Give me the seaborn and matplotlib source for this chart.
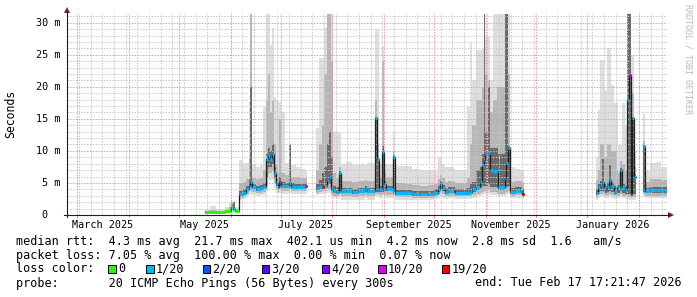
import numpy as np
import pandas as pd
import matplotlib
matplotlib.use("Agg")
import matplotlib.pyplot as plt
import matplotlib.dates as mdates
import matplotlib.transforms as mtransforms
from matplotlib.patches import Polygon, Rectangle
from matplotlib.lines import Line2D
import seaborn as sns

NAN = np.nan
END = pd.Timestamp("2026-02-17 17:21:47")
SPAN_DAYS = 360

# ---- data (days after window start) ----
t_day = [82.8, 85.8, 89.4, 94.8, 97.2, 98.4, 99.6, 100.8,
         103.2, 105.6, 107.4, 109.2, 109.8, 111.0, 113.4, 115.8, 117.6, 119.4, 120.6, 121.8, 123.0,
         124.2, 125.4, 126.6, 127.2, 128.4, 130.8, 133.2, 134.4, 137.4, 140.4, 142.8, 144.0,
         149.4, 151.2, 153.0, 154.2, 156.0, 157.2, 158.4, 159.6, 161.4, 163.2, 164.4, 167.4, 171.0,
         174.6, 178.8, 180.0, 184.8, 186.0, 187.2, 189.0, 190.2, 191.4, 195.6, 196.8, 202.8, 207.0,
         211.8, 216.6, 220.2, 222.6, 223.8, 225.0, 226.8, 228.6, 232.2, 232.8, 238.2, 240.0, 241.8,
         243.0, 245.4, 247.8, 249.0, 250.2, 250.8, 252.6, 253.8, 255.6, 258.0, 258.6, 262.8, 263.4,
         264.6, 265.8, 268.8, 271.8, 273.0, 274.2,
         317.4, 318.6, 319.8, 321.0, 322.2, 323.4, 324.0, 325.2, 326.4, 328.2, 330.0, 330.6, 331.8,
         333.0, 334.8, 336.0, 337.2, 338.4, 339.0, 340.2, 341.4,
         345.6, 346.8, 349.8, 353.4, 356.4, 358.2, 360.0]
med = [0.45, 0.45, 0.40, 0.55, 0.65, 1.20, 0.90, 0.60,
       3.3, 3.5, 4.0, 4.6, 5.2, 4.3, 4.1, 4.2, 4.3, 8.8, 9.4, 8.8, 9.5,
       6.5, 5.0, 4.3, 5.2, 4.5, 4.5, 5.0, 4.4, 4.4, 4.4, 4.5, NAN,
       4.2, 4.3, 4.4, 4.5, 5.5, 6.0, 4.0, 3.7, 3.6, 6.5, 3.7, 3.7, 3.6,
       3.7, 4.0, 3.7, 15.1, 8.8, 4.0, 9.9, 4.9, 4.1, 9.1, 3.4, 3.4, 3.2,
       3.2, 3.3, 3.5, 4.0, 4.9, 4.2, 3.6, 3.8, 3.8, 3.5, 3.5, 3.5, 3.6,
       4.0, 4.3, 5.2, 7.8, 8.6, 9.5, 9.6, 7.0, 6.9, 6.9, 4.3, 5.7, 8.1,
       10.4, 3.6, 3.8, 3.8, 3.3, NAN,
       3.4, 4.3, 4.9, 5.2, 4.2, 3.9, 4.3, 5.5, 4.5, 3.8, 4.2, 4.3, 7.0,
       4.3, 3.9, 17.9, 21.8, 3.3, 15.1, 6.0, NAN,
       10.8, 3.7, 3.9, 3.9, 3.8, 3.9, NAN]
loss = [0, 0, 0, 0, 0, 0, 1, 0,
        1, 1, 1, 1, 1, 1, 1, 1, 1, 1, 1, 1, 1,
        1, 1, 1, 10, 1, 1, 1, 1, 1, 1, 10, NAN,
        1, 1, 19, 1, 1, 1, 1, 1, 1, 1, 1, 1, 1,
        1, 1, 1, 1, 1, 1, 1, 1, 1, 1, 1, 1, 1,
        1, 1, 1, 1, 1, 1, 1, 1, 19, 1, 1, 1, 1,
        1, 1, 1, 1, 1, 1, 1, 1, 1, 1, 1, 1, 1,
        1, 1, 1, 1, 19, NAN,
        1, 1, 1, 1, 1, 1, 1, 1, 1, 1, 1, 1, 1,
        1, 1, 1, 10, 10, 1, 1, NAN,
        1, 1, 1, 1, 1, 1, NAN]
lo = [0.30, 0.30, 0.28, 0.35, 0.40, 0.60, 0.50, 0.40,
      2.3, 2.5, 2.9, 3.2, 3.3, 3.1, 3.0, 3.1, 3.1, 3.8, 5.5, 5.5, 5.5,
      4.2, 3.5, 3.2, 3.4, 3.3, 3.3, 3.5, 3.2, 3.2, 3.2, 3.3, NAN,
      3.1, 3.2, 3.2, 3.2, 3.4, 3.4, 2.9, 2.6, 2.5, 2.8, 2.4, 2.4, 2.3,
      2.4, 2.6, 2.4, 2.9, 2.9, 2.7, 2.9, 2.9, 2.7, 2.7, 2.4, 2.4, 2.3,
      2.3, 2.4, 2.5, 2.7, 2.9, 2.7, 2.5, 2.6, 2.6, 2.5, 2.5, 2.5, 2.5,
      2.7, 2.9, 2.9, 3.1, 3.2, 3.2, 3.3, 3.1, 3.1, 2.9, 2.9, 2.9, 3.1,
      3.2, 2.6, 2.7, 2.7, 2.5, NAN,
      2.4, 2.7, 2.9, 2.9, 2.7, 2.6, 2.7, 2.9, 2.7, 2.5, 2.6, 2.6, 2.9,
      2.6, 2.5, 2.4, 2.4, 2.2, 2.4, 2.4, NAN,
      2.9, 2.6, 2.6, 2.6, 2.6, 2.6, NAN]
lo_mid = [0.35, 0.35, 0.32, 0.40, 0.50, 0.80, 0.60, 0.45,
          2.6, 2.8, 3.3, 3.7, 3.8, 3.6, 3.4, 3.5, 3.6, 4.5, 6.5, 6.5, 6.8,
          5.0, 4.0, 3.6, 4.0, 3.8, 3.8, 4.0, 3.7, 3.7, 3.7, 3.8, NAN,
          3.5, 3.6, 3.7, 3.7, 4.0, 4.0, 3.3, 3.0, 2.9, 3.3, 2.9, 2.9, 2.8,
          2.9, 3.1, 2.9, 3.3, 3.3, 3.1, 3.3, 3.3, 3.1, 3.1, 2.8, 2.8, 2.6,
          2.6, 2.7, 2.8, 3.1, 3.4, 3.2, 2.9, 3.0, 3.0, 2.9, 2.9, 2.9, 2.9,
          3.1, 3.3, 3.4, 3.6, 3.7, 3.7, 3.9, 3.6, 3.6, 3.4, 3.3, 3.4, 3.6,
          3.7, 3.0, 3.1, 3.1, 2.8, NAN,
          2.7, 3.1, 3.3, 3.3, 3.1, 3.0, 3.1, 3.3, 3.1, 2.9, 3.0, 3.0, 3.3,
          3.0, 2.9, 2.8, 2.8, 2.6, 2.8, 2.8, NAN,
          3.3, 3.0, 3.0, 3.0, 3.0, 3.0, NAN]
lo_in = [0.40, 0.40, 0.36, 0.48, 0.58, 1.00, 0.75, 0.52,
         3.0, 3.2, 3.7, 4.2, 4.4, 4.0, 3.8, 3.9, 4.0, 6.0, 7.5, 7.5, 8.0,
         5.8, 4.6, 4.0, 4.6, 4.2, 4.2, 4.6, 4.1, 4.1, 4.1, 4.2, NAN,
         3.9, 4.0, 4.1, 4.2, 4.8, 4.8, 3.7, 3.4, 3.3, 3.8, 3.4, 3.4, 3.3,
         3.4, 3.7, 3.4, 3.6, 3.6, 3.6, 3.6, 3.8, 3.7, 3.5, 3.1, 3.1, 2.9,
         2.9, 3.0, 3.2, 3.6, 3.9, 3.8, 3.3, 3.5, 3.5, 3.2, 3.2, 3.2, 3.3,
         3.6, 3.9, 4.2, 4.5, 4.6, 4.6, 4.8, 4.4, 4.4, 4.2, 3.9, 4.0, 4.4,
         4.6, 3.4, 3.5, 3.5, 3.1, NAN,
         3.1, 3.6, 3.8, 3.8, 3.5, 3.4, 3.6, 3.8, 3.6, 3.3, 3.5, 3.5, 3.7,
         3.5, 3.3, 3.2, 3.2, 3.0, 3.2, 3.2, NAN,
         3.6, 3.4, 3.5, 3.5, 3.4, 3.5, NAN]
hi_in = [0.50, 0.50, 0.45, 0.65, 0.85, 1.50, 2.00, 0.80,
         3.8, 4.0, 4.5, 5.5, 20.0, 4.8, 4.6, 4.7, 5.0, 9.5, 10.5, 10.0, 11.0,
         7.5, 5.8, 4.9, 6.0, 5.1, 5.0, 10.9, 5.0, 4.9, 4.9, 5.0, NAN,
         4.8, 5.5, 6.5, 7.5, 11.0, 13.0, 9.0, 4.5, 4.3, 6.8, 4.2, 4.2, 4.1,
         4.2, 4.5, 4.2, 15.3, 9.0, 4.6, 10.7, 5.3, 4.6, 9.4, 3.9, 3.9, 3.7,
         3.7, 3.8, 4.0, 4.5, 5.3, 4.7, 4.1, 4.3, 4.3, 4.0, 4.0, 4.2, 4.8,
         5.2, 7.0, 7.5, 9.5, 31.4, 13.0, 20.0, 10.5, 10.5, 10.5, 9.5, 31.4, 31.4,
         10.8, 4.2, 4.3, 4.3, 4.0, NAN,
         4.0, 4.8, 5.3, 8.8, 4.8, 4.6, 5.0, 7.8, 5.0, 4.5, 4.6, 4.7, 7.3,
         4.8, 4.6, 31.4, 31.4, 15.0, 15.3, 6.4, NAN,
         10.9, 4.2, 4.4, 4.4, 4.3, 4.4, NAN]
hi_mid = [0.7, 0.8, 0.6, 0.9, 1.3, 2.0, 2.1, 1.0,
          5.0, 5.2, 5.6, 9.0, 31.4, 5.8, 5.6, 5.8, 7.0, 18.0, 22.0, 16.0, 18.0,
          11.0, 8.0, 6.5, 15.0, 6.5, 6.2, 11.0, 6.0, 5.9, 5.8, 5.8, NAN,
          7.0, 11.0, 14.0, 22.0, 31.4, 31.4, 24.0, 6.5, 5.8, 7.5, 5.3, 5.3, 5.2,
          5.3, 5.5, 5.3, 18.0, 11.0, 6.0, 24.0, 6.5, 6.0, 9.8, 5.0, 4.9, 4.7,
          4.6, 4.7, 4.9, 5.6, 6.2, 5.7, 5.2, 5.3, 5.2, 5.0, 5.0, 5.8, 11.0,
          14.0, 18.0, 18.0, 20.0, 31.4, 22.0, 21.0, 16.0, 18.0, 20.0, 20.0, 31.4, 31.4,
          22.0, 5.2, 5.3, 5.3, 5.0, NAN,
          5.5, 7.0, 11.0, 11.0, 9.0, 9.0, 11.0, 11.0, 10.0, 10.0, 7.0, 6.5, 8.5,
          8.0, 7.0, 31.4, 31.4, 19.0, 19.0, 7.5, NAN,
          11.5, 5.2, 5.6, 5.6, 5.4, 5.4, NAN]
hi_out = [1.0, 1.4, 1.0, 1.2, 1.8, 2.2, 2.2, 1.3,
          8.6, 8.1, 8.1, 17.7, 31.4, 7.8, 7.5, 7.8, 16.8, 31.4, 31.4, 26.5, 29.2,
          18.4, 18.0, 17.7, 17.7, 16.0, 8.1, 11.2, 7.8, 7.5, 7.2, 7.0, NAN,
          13.5, 24.5, 24.5, 29.2, 31.4, 31.4, 31.4, 13.0, 13.0, 12.8, 8.0, 8.3, 7.8,
          8.0, 7.8, 8.1, 28.9, 28.9, 8.0, 26.3, 8.0, 8.0, 12.8, 7.7, 7.6, 7.2,
          7.0, 7.0, 6.8, 9.1, 9.1, 8.0, 7.5, 7.5, 7.2, 7.0, 7.0, 16.9, 27.0,
          21.0, 25.7, 25.7, 26.0, 31.4, 27.8, 27.8, 21.0, 31.4, 31.4, 31.4, 31.4, 31.4,
          31.4, 7.5, 7.2, 7.0, 7.0, NAN,
          9.0, 16.4, 24.2, 24.2, 19.5, 19.5, 26.0, 26.0, 20.3, 17.5, 17.5, 10.9, 10.9,
          17.5, 14.0, 31.4, 31.4, 25.0, 25.0, 10.0, NAN,
          15.9, 6.8, 8.1, 8.3, 7.5, 7.5, NAN]

y_ticks = [0, 5, 10, 15, 20, 25, 30]
y_labels = ["0", "5 m", "10 m", "15 m", "20 m", "25 m", "30 m"]
x_labels = ["March 2025", "May 2025", "July 2025", "September 2025", "November 2025", "January 2026"]
x_label_dates = ["2025-03-16", "2025-05-16", "2025-07-16", "2025-09-16", "2025-11-16", "2026-01-16"]
loss_values = [0, 1, 2, 3, 4, 10, 19]
loss_names = ["0", "1/20", "2/20", "3/20", "4/20", "10/20", "19/20"]
loss_colors = ["#26ff00", "#00b8ff", "#0059ff", "#5e00ff", "#7e00ff", "#dd00ff", "#ff0000"]

legend_rtt = "median rtt:  4.3 ms avg  21.7 ms max  402.1 us min  4.2 ms now  2.8 ms sd  1.6   am/s"
legend_loss = "packet loss: 7.05 % avg  100.00 % max  0.00 % min  0.07 % now"
legend_color = "loss color:"
probe_text = "probe:       20 ICMP Echo Pings (56 Bytes) every 300s"
end_text = "end: Tue Feb 17 17:21:47 2026"

# ---- layout helpers (image pixels) ----
W, H = 697, 297
MONO = "DejaVu Sans Mono"
fig = plt.figure(figsize=(W / 100, H / 100), dpi=100)
fig.patch.set_facecolor("white")
L, R, T, B = 67, 667, 13, 215
ax = fig.add_axes([L / W, 1 - B / H, (R - L) / W, (B - T) / H])
ax.set_facecolor("white")

def P(x, y):
    return (x / W, 1 - y / H)

start = END - pd.Timedelta(days=SPAN_DAYS)
x0 = mdates.date2num(start.to_pydatetime())
x1 = mdates.date2num(END.to_pydatetime())
xs = x0 + np.array(t_day, dtype=float)
n = len(xs)

def steps(vals):
    vals = np.asarray(vals, dtype=float)
    X, Y = [], []
    for i in range(n):
        v = vals[i]
        if np.isnan(v) or i == n - 1:
            X.append(xs[i]); Y.append(np.nan)
        else:
            X += [xs[i], xs[i + 1]]; Y += [v, v]
    return np.array(X), np.array(Y)

Xs, LO = steps(lo)
_, LOM = steps(lo_mid)
_, LOI = steps(lo_in)
_, HII = steps(hi_in)
_, HIM = steps(hi_mid)
_, HIO = steps(hi_out)

ax.fill_between(Xs, LO, HIO, color="#dedede", lw=0, zorder=1)
ax.fill_between(Xs, LOM, HIM, color="#b6b6b6", lw=0, zorder=1.1)
ax.fill_between(Xs, LOI, HII, color="#6a6a6a", lw=0, zorder=1.2)

# grid (drawn over smoke like rrdtool)
minor_c = "#c8c8c8"
major_c = "#eb9a9a"
dash = (0, (1.4, 1.4))
for d in pd.date_range(start.normalize(), END, freq="W-SUN"):
    ax.axvline(mdates.date2num(d.to_pydatetime()), color=minor_c, lw=0.72, ls=dash, zorder=2)
for d in pd.date_range(start.normalize(), END, freq="MS"):
    ax.axvline(mdates.date2num(d.to_pydatetime()), color=major_c, lw=0.72, ls=dash, zorder=2.1)
for v in range(1, 32):
    if v % 5:
        ax.axhline(v, color=minor_c, lw=0.72, ls=dash, zorder=2)
for v in y_ticks[1:]:
    ax.axhline(v, color=major_c, lw=0.72, ls=dash, zorder=2.1)

# median: dark connector then loss-coloured segments
Xm, Ym = steps(med)
dfm = pd.DataFrame({"x": Xm, "y": Ym, "run": np.cumsum(np.isnan(Ym))}).dropna()
sns.lineplot(data=dfm, x="x", y="y", units="run", estimator=None, sort=False,
             color="#1e1e1e", lw=0.9, legend=False, ax=ax, zorder=3)
name_of = dict(zip(loss_values, loss_names))
rows = []
for i in range(n - 1):
    if not np.isnan(med[i]):
        nm = name_of[int(loss[i])]
        rows.append((xs[i], med[i], i, nm))
        rows.append((xs[i + 1], med[i], i, nm))
dfs = pd.DataFrame(rows, columns=["x", "y", "seg", "loss"])
sns.lineplot(data=dfs, x="x", y="y", units="seg", hue="loss", estimator=None, sort=False,
             palette=dict(zip(loss_names, loss_colors)), lw=2.2, legend=False, ax=ax,
             zorder=4, solid_capstyle="butt")

ax.set_xlim(x0, x1)
ax.set_ylim(0, (B - T) / 6.41)
ax.set_xticks([]); ax.set_yticks([])
ax.set_xlabel(""); ax.set_ylabel("")
for s in ax.spines.values():
    s.set_visible(False)

# axes lines and arrows
axis_c = (0.12, 0.12, 0.12)
arrow_c = (0.50, 0.12, 0.12)
fig.add_artist(Line2D([P(64, 215)[0], P(670, 215)[0]], [P(0, 215)[1]] * 2, transform=fig.transFigure, color=axis_c, lw=0.8))
fig.add_artist(Line2D([P(67, 0)[0]] * 2, [P(0, 217)[1], P(0, 11)[1]], transform=fig.transFigure, color=axis_c, lw=0.8))
fig.add_artist(Polygon([P(668, 212), P(668, 218), P(674, 215)], closed=True, transform=fig.transFigure, color=arrow_c, lw=0))
fig.add_artist(Polygon([P(64, 13), P(70, 13), P(67, 7)], closed=True, transform=fig.transFigure, color=arrow_c, lw=0))
for d in pd.date_range(start.normalize(), END, freq="MS"):
    xx = mdates.date2num(d.to_pydatetime())
    ax.plot([xx, xx], [0, -0.35], color=major_c, lw=0.8, clip_on=False, zorder=5)

# tick labels
tx = mtransforms.blended_transform_factory(ax.transData, fig.transFigure)
for lab, dstr in zip(x_labels, x_label_dates):
    ax.text(mdates.date2num(pd.Timestamp(dstr).to_pydatetime()), 1 - 225 / H, lab, transform=tx,
            ha="center", va="center", family=MONO, fontsize=7.3)
ty = mtransforms.blended_transform_factory(fig.transFigure, ax.transData)
for v, lab in zip(y_ticks, y_labels):
    xr = 60 if v else 47
    ax.text(xr / W, v, lab, transform=ty, ha="right", va="center", family=MONO, fontsize=7.3)

fig.text(*P(11, 114), "Seconds", rotation=90, ha="center", va="center", family=MONO, fontsize=8.3)
fig.text(*P(688, 59), "RRDTOOL / TOBI OETIKER", rotation=270, ha="center", va="center",
         family=MONO, fontsize=6, color="#b8b8b8")

# legend
FS = 8.5
fig.text(*P(16, 241), legend_rtt, ha="left", va="center", family=MONO, fontsize=FS)
fig.text(*P(16, 255.5), legend_loss, ha="left", va="center", family=MONO, fontsize=FS)
fig.text(*P(16, 269), legend_color, ha="left", va="center", family=MONO, fontsize=FS)
box_x = [108.3, 146, 202.7, 261.7, 321.7, 378.3, 441.7]
for bx, nm, c in zip(box_x, loss_names, loss_colors):
    fig.add_artist(Rectangle(P(bx, 272.5), 7.5 / W, 7.5 / H, transform=fig.transFigure,
                             facecolor=c, edgecolor="black", lw=0.7))
    fig.text(*P(bx + 9.5, 269), nm, ha="left", va="center", family=MONO, fontsize=FS)
fig.text(*P(16, 283), probe_text, ha="left", va="center", family=MONO, fontsize=FS)
fig.text(*P(682, 283), end_text, ha="right", va="center", family=MONO, fontsize=FS)

fig.savefig("out.png", dpi=100, facecolor="white")
